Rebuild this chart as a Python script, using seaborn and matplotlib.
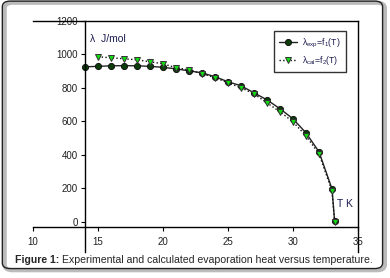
import numpy as np
import pandas as pd
import matplotlib
matplotlib.use('Agg')
import matplotlib.pyplot as plt
import seaborn as sns
from matplotlib.patches import FancyBboxPatch

# temperature (K) and evaporation heat (J/mol)
t_exp = [14, 15, 16, 17, 18, 19, 20, 21, 22, 23, 24, 25, 26, 27, 28, 29, 30, 31, 32, 33, 33.2]
lam_exp = [925, 928, 931, 932, 931, 928, 922, 913, 901, 889, 866, 836, 812, 770, 728, 675, 615, 531, 418, 197, 5]

t_cal = [15, 16, 17, 18, 19, 20, 21, 22, 23, 24, 25, 26, 27, 28, 29, 30, 31, 32, 33, 33.2]
lam_cal = [985, 979, 973, 967, 955, 943, 920, 907, 884, 860, 830, 800, 764, 710, 657, 597, 513, 406, 185, 0]

x_ticks = [10, 15, 20, 25, 30, 35]
y_ticks = [0, 200, 400, 600, 800, 1000, 1200]

df_exp = pd.DataFrame({'T': t_exp, 'lam': lam_exp})
df_cal = pd.DataFrame({'T': t_cal, 'lam': lam_cal})

sns.set_style('white')
plt.rcParams['font.family'] = ['Liberation Sans', 'DejaVu Sans']
plt.rcParams['mathtext.fontset'] = 'custom'
plt.rcParams['mathtext.rm'] = 'Liberation Sans'
plt.rcParams['mathtext.it'] = 'Liberation Sans'

fig = plt.figure(figsize=(3.9, 2.78), dpi=100)
ax = fig.add_axes([0.0846, 0.0935, 0.8334, 0.832])

txt_col = '#1c1c50'

sns.lineplot(data=df_exp, x='T', y='lam', ax=ax, color='#222222', lw=1.0,
             marker='o', markersize=4.4, markerfacecolor='#0b3d0b',
             markeredgecolor='#111111', markeredgewidth=0.7,
             label=r'$\lambda_{exp}$=f$_1$(T)')
sns.lineplot(data=df_cal, x='T', y='lam', ax=ax, color='#111111', lw=1.0,
             linestyle=':', marker='v', markersize=4.8, markerfacecolor='#10e010',
             markeredgecolor='#333333', markeredgewidth=0.7,
             label=r'$\lambda_{cal}$=f$_2$(T)')

ax.set_xlim(10, 35)
ax.set_ylim(-179, 1200)
ax.set_xticks(x_ticks)
ax.set_yticks(y_ticks)
ax.set_xlabel('')
ax.set_ylabel('')

for s in ax.spines.values():
    s.set_color('black')
    s.set_linewidth(1.0)
ax.spines['left'].set_position(('data', 14))
ax.spines['bottom'].set_position(('data', -30))

ax.tick_params(axis='both', direction='out', length=3, width=0.8, color='black',
               labelsize=7, labelcolor='#202020', pad=2,
               bottom=True, left=True, top=False, right=False)
ax.tick_params(axis='x', pad=4)

ax.text(14.4, 1090, 'λ  J/mol', fontsize=7.5, color=txt_col, va='center')
ax.text(34.6, 110, 'T K', fontsize=7.5, color=txt_col, va='center', ha='right')

leg = ax.legend(loc='upper right', bbox_to_anchor=(0.976, 0.973), fontsize=6.3,
                handlelength=2.0, handletextpad=0.6, borderpad=0.6,
                labelspacing=0.5, frameon=True, fancybox=False)
leg.get_frame().set_edgecolor('black')
leg.get_frame().set_linewidth(1.0)
for t in leg.get_texts():
    t.set_color(txt_col)

# rounded frame around the whole figure, with a light shadow
fig.patches.append(FancyBboxPatch((0.012, 0.028), 0.975, 0.962,
                                  boxstyle='round,pad=0,rounding_size=0.02',
                                  transform=fig.transFigure, facecolor='none',
                                  edgecolor='#bbbbbb', linewidth=3, zorder=0))
fig.patches.append(FancyBboxPatch((0.006, 0.034), 0.975, 0.962,
                                  boxstyle='round,pad=0,rounding_size=0.02',
                                  transform=fig.transFigure, facecolor='none',
                                  edgecolor='#222222', linewidth=1.0, zorder=1))

# caption: bold prefix then normal text
cap1 = fig.text(0.038, 0.054, 'Figure 1:', fontsize=7.6, fontweight='bold', va='baseline')
renderer = fig.canvas.get_renderer()
bb = cap1.get_window_extent(renderer)
x2 = (bb.x1 + 3) / fig.bbox.width
fig.text(x2, 0.054, 'Experimental and calculated evaporation heat versus temperature.',
         fontsize=7.6, va='baseline')

fig.savefig('out.png', dpi=100)
